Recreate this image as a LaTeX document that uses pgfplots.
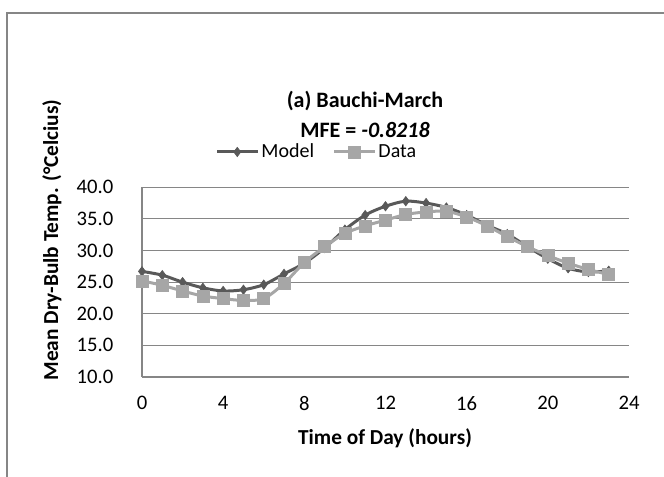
\documentclass[border=0pt]{standalone}
\usepackage{fontspec}
\setmainfont{Carlito}
\usepackage{pgfplots}
\pgfplotsset{compat=1.18}
\definecolor{modelc}{RGB}{89,89,89}
\definecolor{datac}{RGB}{166,166,166}
\definecolor{gridc}{RGB}{134,134,134}
\begin{document}
\begin{tikzpicture}
\useasboundingbox (0,0) rectangle (498pt,357.75pt);
\draw[gridc, line width=0.9pt] (5.25pt,0pt) -- (5.25pt,348pt) -- (498pt,348pt);
\node[font=\fontsize{16.5}{19}\selectfont\bfseries] at (273.75pt,282pt) {(a) Bauchi-March};
\node[font=\fontsize{16.5}{19}\selectfont\bfseries] at (273.75pt,260.25pt) {MFE = \textit{-0.8218}};
\node[font=\fontsize{16}{19}\selectfont\bfseries, rotate=90] at (39pt,177.75pt) {Mean Dry-Bulb Temp. (°Celcius)};
\node[font=\fontsize{16}{19}\selectfont\bfseries] at (288.75pt,29.25pt) {Time of Day (hours)};
\begin{axis}[
  at={(106.5pt,75pt)}, anchor=south west,
  scale only axis, width=365.25pt, height=142.3pt,
  xmin=0, xmax=24, ymin=10, ymax=40,
  xtick={0,4,...,24}, ytick={10,15,...,40},
  major tick length=0pt,
  axis x line*=bottom, axis y line*=left,
  axis line style={gridc, line width=0.9pt},
  ymajorgrids, grid style={gridc, line width=0.9pt},
  tick label style={font=\fontsize{15.5}{18}\selectfont},
  /pgf/number format/assume math mode=true,
  y tick label style={/pgf/number format/fixed, /pgf/number format/fixed zerofill, /pgf/number format/precision=1},
  yticklabel style={xshift=-18pt},
  xticklabel style={yshift=-11pt},
  legend columns=2,
  legend style={at={(0.36,1.186)}, anchor=center, draw=none, fill=none,
    font=\fontsize{15}{18}\selectfont, /tikz/every even column/.append style={column sep=12pt}},
  legend image code/.code={\draw[mark repeat=2,mark phase=2] plot coordinates {(0pt,0pt)(15pt,0pt)(30pt,0pt)};},
]
\addplot[modelc, line width=2.25pt, smooth, mark=diamond*, mark size=3.5pt, mark options={solid, line width=0.5pt}] coordinates {
(0,26.7)(1,26.1)(2,25.0)(3,24.1)(4,23.6)(5,23.8)(6,24.6)(7,26.3)(8,28.0)(9,30.4)(10,33.3)(11,35.6)(12,37.0)(13,37.8)(14,37.5)(15,36.8)(16,35.6)(17,34.0)(18,32.6)(19,30.6)(20,28.7)(21,27.2)(22,26.6)(23,26.8)};
\addlegendentry{Model}
\addplot[datac, line width=2.25pt, smooth, mark=square*, mark size=4.5pt, mark options={solid, line width=0.5pt}] coordinates {
(0,25.2)(1,24.5)(2,23.6)(3,22.8)(4,22.4)(5,22.1)(6,22.4)(7,24.8)(8,28.1)(9,30.6)(10,32.7)(11,33.9)(12,34.8)(13,35.7)(14,36.1)(15,36.2)(16,35.3)(17,33.9)(18,32.2)(19,30.6)(20,29.2)(21,28.0)(22,27.0)(23,26.2)};
\addlegendentry{Data}
\end{axis}
\end{tikzpicture}
\end{document}
